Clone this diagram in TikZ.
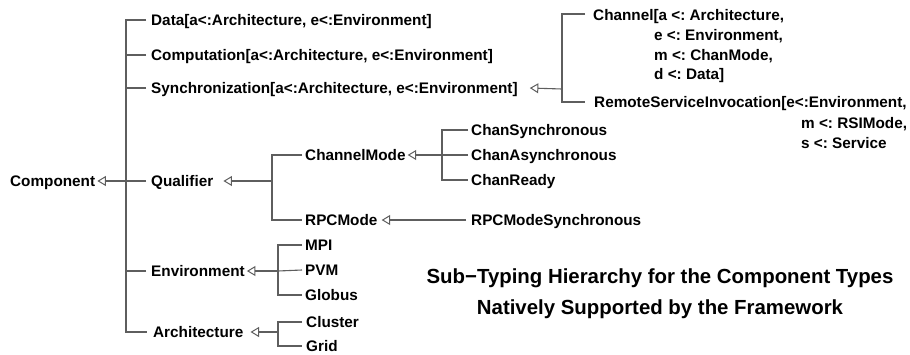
\documentclass[tikz,border=0pt]{standalone}
\usepackage{fontspec}
\setmainfont{Liberation Sans}
\usetikzlibrary{arrows.meta}
\definecolor{linegray}{HTML}{5E5E5E}
\frenchspacing
\begin{document}
\begin{tikzpicture}[x=1pt,y=-1pt,
  lbl/.style={anchor=west,inner sep=0pt,text height=11pt,text depth=0pt,
    font=\fontsize{15.3}{19.8}\selectfont\bfseries\frenchspacing},
  multi/.style={anchor=base west,inner sep=0pt,
    font=\fontsize{15.3}{19.8}\selectfont\bfseries\frenchspacing},
  ttl/.style={anchor=base,inner sep=0pt,
    font=\fontsize{20.4}{31}\selectfont\bfseries},
  ln/.style={draw=linegray,line width=1.1pt},
  inh/.style={ln,-{Triangle[open,length=8.5pt,width=10pt,line width=1pt]}},
]
\useasboundingbox (0,0) rectangle (910,354);

% ---- type names ----
\node[lbl] (Component)        at (10,181)  {Component};
\node[lbl] (Data)             at (151,20)  {Data[a<:Architecture, e<:Environment]};
\node[lbl] (Computation)      at (151,55)  {Computation[a<:Architecture, e<:Environment]};
\node[lbl] (Synchronization)  at (151,88)  {Synchronization[a<:Architecture, e<:Environment]};
\node[lbl] (Qualifier)        at (151,181) {Qualifier};
\node[lbl] (Environment)      at (151,271) {Environment};
\node[lbl] (Architecture)     at (153,332) {Architecture};
\node[lbl] (ChannelMode)      at (305,155) {ChannelMode};
\node[lbl] (RPCMode)          at (305,220) {RPCMode};
\node[lbl] (ChanSynchronous)  at (471,130) {ChanSynchronous};
\node[lbl] (ChanAsynchronous) at (471,155) {ChanAsynchronous};
\node[lbl] (ChanReady)        at (471,180) {ChanReady};
\node[lbl] (RPCModeSynchronous) at (471,220) {RPCModeSynchronous};
\node[lbl] (MPI)              at (305,245) {MPI};
\node[lbl] (PVM)              at (305,270) {PVM};
\node[lbl] (Globus)           at (305,295) {Globus};
\node[lbl] (Cluster)          at (306,322) {Cluster};
\node[lbl] (Grid)             at (306,346) {Grid};

\node[multi] (Channel) at (593,20.5) {\begin{tabular}[t]{@{}l@{}}
  Channel[a <: Architecture,\\
  \hspace*{61pt}e <: Environment,\\
  \hspace*{61pt}m <: ChanMode,\\
  \hspace*{61pt}d <: Data]\end{tabular}};
\node[multi] (Remote) at (594,107.5) {\fontsize{15.3}{20.5}\selectfont
  \begin{tabular}[t]{@{}l@{}}
  RemoteServiceInvocation[e<:Environment,\\
  \hspace*{207pt}m <: RSIMode,\\
  \hspace*{207pt}s <: Service\end{tabular}};

\node[ttl] (title) at (660,283.3) {\begin{tabular}[t]{@{}c@{}}
  Sub−Typing Hierarchy for the Component Types\\
  Natively Supported by the Framework\end{tabular}};

% ---- junction points of the bars ----
\coordinate (trunk)   at (126,181);
\coordinate (qbar)    at (272,181);
\coordinate (cmbar)   at (442,155);
\coordinate (envbar)  at (278,271);
\coordinate (archbar) at (278,332);
\coordinate (syncbar) at (562,89);

% ---- Component ----
\draw[ln] ([xshift=-5pt]Data.west) -| (trunk) |- ([xshift=-6pt]Architecture.west);
\foreach \n in {Computation,Synchronization,Qualifier,Environment}
  \draw[ln] ([xshift=-5pt]\n.west) -- (trunk |- \n.west);
\draw[inh] (trunk) -- ([xshift=2pt]Component.east);

% ---- Synchronization ----
\draw[ln] ([xshift=-8pt,yshift=6.5pt]Channel.base west) -| (syncbar)
  |- ([xshift=-9pt,yshift=5.5pt]Remote.base west);
\draw[inh] (syncbar) -- ([xshift=12pt]Synchronization.east);

% ---- Qualifier ----
\draw[ln] ([xshift=-3pt]ChannelMode.west) -| (qbar) |- ([xshift=-3pt]RPCMode.west);
\draw[inh] (qbar) -- ([xshift=10pt]Qualifier.east);

\draw[ln] ([xshift=-3pt]ChanSynchronous.west) -| (cmbar) |- ([xshift=-3pt]ChanReady.west);
\draw[ln] ([xshift=-3pt]ChanAsynchronous.west) -- (cmbar);
\draw[inh] (cmbar) -- ([xshift=2pt]ChannelMode.east);

\draw[inh] ([xshift=-5pt]RPCModeSynchronous.west) -- ([xshift=4pt]RPCMode.east);

% ---- Environment ----
\draw[ln] ([xshift=-3pt]MPI.west) -| (envbar) |- ([xshift=-3pt]Globus.west);
\draw[ln] ([xshift=-3pt]PVM.west) -- (envbar);
\draw[inh] (envbar) -- ([xshift=2pt]Environment.east);

% ---- Architecture ----
\draw[ln] ([xshift=-4pt]Cluster.west) -| (archbar) |- ([xshift=-4pt]Grid.west);
\draw[inh] (archbar) -- ([xshift=7pt]Architecture.east);
\end{tikzpicture}
\end{document}
